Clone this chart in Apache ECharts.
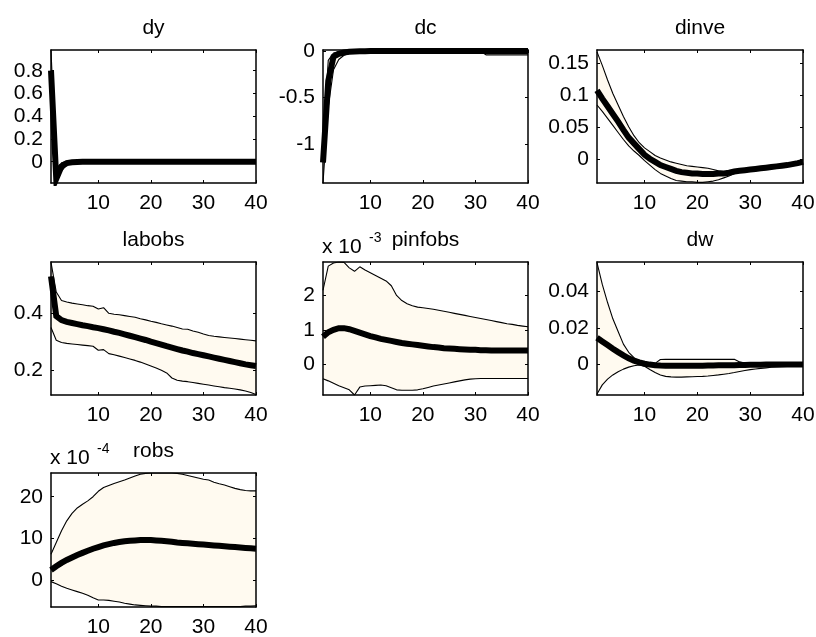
<!DOCTYPE html>
<html>
<head>
<meta charset="utf-8">
<script src="https://cdn.jsdelivr.net/npm/echarts@6/dist/echarts.min.js"></script>
<style>
html,body{margin:0;padding:0;background:#ffffff;}
#c{width:816px;height:637px;}
</style>
</head>
<body>
<div id="c"></div>
<script>
// ---------------- DATA ----------------
const periods = [1,2,3,4,5,6,7,8,9,10,11,12,13,14,15,16,17,18,19,20,21,22,23,24,25,26,27,28,29,30,31,32,33,34,35,36,37,38,39,40];
const xTickValues = [10,20,30,40];

const dyMean  = [0.80,-0.15,-0.04,-0.012,-0.005,-0.002,-0.001,0,0,0,0,0,0,0,0,0,0,0,0,0,0,0,0,0,0,0,0,0,0,0,0,0,0,0,0,0,0,0,0,0];
const dyUpper = [0.98,-0.09,-0.01,0.004,0.006,0.006,0.005,0.005,0.004,0.004,0.004,0.004,0.004,0.004,0.004,0.004,0.004,0.004,0.004,0.004,0.004,0.004,0.004,0.004,0.004,0.004,0.004,0.004,0.004,0.004,0.004,0.004,0.004,0.004,0.004,0.004,0.004,0.004,0.004,0.004];
const dyLower = [0.62,-0.187,-0.08,-0.03,-0.016,-0.010,-0.008,-0.006,-0.005,-0.004,-0.004,-0.004,-0.004,-0.004,-0.004,-0.004,-0.004,-0.004,-0.004,-0.004,-0.004,-0.004,-0.004,-0.004,-0.004,-0.004,-0.004,-0.004,-0.004,-0.004,-0.004,-0.004,-0.004,-0.004,-0.004,-0.004,-0.004,-0.004,-0.004,-0.004];
const dyTicks = [0,0.2,0.4,0.6,0.8];

const dcMean  = [-1.20,-0.32,-0.06,-0.03,-0.015,-0.008,-0.004,-0.002,-0.001,0,0,0,0,0,0,0,0,0,0,0,0,0,0,0,0,0,0,0,0,0,0,0,0,0,0,0,0,0,0,0];
const dcUpper = [-0.98,-0.10,-0.02,-0.005,0.0,0.004,0.006,0.008,0.010,0.012,0.012,0.012,0.012,0.012,0.012,0.012,0.012,0.012,0.012,0.012,0.012,0.012,0.012,0.012,0.012,0.012,0.012,0.012,0.012,0.012,0.012,0.012,0.012,0.012,0.012,0.012,0.012,0.012,0.012,0.012];
const dcLower = [-1.42,-0.60,-0.20,-0.09,-0.045,-0.025,-0.015,-0.010,-0.008,-0.006,-0.005,-0.005,-0.005,-0.005,-0.005,-0.005,-0.005,-0.005,-0.005,-0.005,-0.005,-0.005,-0.005,-0.005,-0.005,-0.005,-0.005,-0.005,-0.005,-0.005,-0.005,-0.04,-0.04,-0.04,-0.04,-0.04,-0.04,-0.04,-0.04,-0.04];
const dcTicks = [-1,-0.5,0];

const dinveMean  = [0.108,0.095,0.083,0.071,0.059,0.046,0.034,0.025,0.016,0.007,0.001,-0.004,-0.009,-0.012,-0.015,-0.018,-0.020,-0.021,-0.022,-0.022,-0.023,-0.023,-0.023,-0.022,-0.022,-0.021,-0.019,-0.018,-0.017,-0.016,-0.015,-0.014,-0.013,-0.012,-0.011,-0.010,-0.009,-0.0075,-0.006,-0.004];
const dinveUpper = [0.168,0.147,0.124,0.103,0.085,0.067,0.051,0.037,0.026,0.018,0.012,0.006,0.002,-0.001,-0.004,-0.006,-0.008,-0.010,-0.011,-0.012,-0.013,-0.014,-0.016,-0.018,-0.019,-0.019,-0.017,-0.016,-0.015,-0.014,-0.013,-0.012,-0.011,-0.010,-0.009,-0.008,-0.007,-0.0055,-0.004,-0.002];
const dinveLower = [0.085,0.075,0.064,0.053,0.042,0.031,0.021,0.013,0.006,-0.002,-0.009,-0.016,-0.022,-0.026,-0.030,-0.033,-0.034,-0.035,-0.035,-0.036,-0.036,-0.035,-0.034,-0.032,-0.029,-0.026,-0.022,-0.020,-0.019,-0.018,-0.017,-0.016,-0.015,-0.014,-0.013,-0.012,-0.011,-0.0095,-0.008,-0.006];
const dinveTicks = [0,0.05,0.1,0.15];

const labobsMean  = [0.53,0.39,0.376,0.370,0.366,0.362,0.358,0.355,0.351,0.348,0.344,0.340,0.335,0.331,0.326,0.321,0.316,0.311,0.306,0.300,0.295,0.290,0.284,0.279,0.274,0.269,0.265,0.260,0.256,0.252,0.248,0.244,0.240,0.236,0.232,0.228,0.224,0.220,0.217,0.214];
const labobsUpper = [0.580,0.475,0.445,0.440,0.436,0.433,0.430,0.427,0.425,0.415,0.420,0.400,0.397,0.395,0.392,0.389,0.386,0.381,0.377,0.372,0.368,0.363,0.359,0.355,0.350,0.345,0.344,0.338,0.333,0.327,0.322,0.319,0.317,0.315,0.313,0.311,0.309,0.307,0.305,0.303];
const labobsLower = [0.350,0.305,0.297,0.294,0.292,0.290,0.288,0.286,0.284,0.270,0.272,0.258,0.254,0.249,0.244,0.239,0.234,0.228,0.221,0.214,0.207,0.199,0.190,0.172,0.164,0.161,0.159,0.156,0.153,0.150,0.147,0.144,0.141,0.138,0.136,0.133,0.130,0.126,0.121,0.114];
const labobsTicks = [0.2,0.4];

// pinfobs values in units of 1e-3
const pinfobsMean  = [0.80,0.93,1.00,1.05,1.05,1.02,0.97,0.92,0.87,0.82,0.78,0.74,0.71,0.68,0.65,0.62,0.60,0.58,0.56,0.54,0.52,0.50,0.49,0.47,0.46,0.45,0.44,0.43,0.42,0.42,0.41,0.41,0.40,0.40,0.40,0.40,0.40,0.40,0.40,0.40];
const pinfobsUpper = [2.15,2.85,2.94,2.97,2.96,2.80,2.70,2.83,2.74,2.66,2.58,2.50,2.42,2.28,2.00,1.85,1.76,1.70,1.66,1.64,1.62,1.60,1.57,1.54,1.51,1.48,1.45,1.42,1.39,1.36,1.33,1.30,1.27,1.24,1.21,1.18,1.16,1.13,1.11,1.09];
const pinfobsLower = [-0.42,-0.48,-0.55,-0.62,-0.68,-0.74,-0.89,-0.66,-0.63,-0.62,-0.61,-0.60,-0.62,-0.68,-0.74,-0.75,-0.75,-0.75,-0.74,-0.71,-0.67,-0.63,-0.60,-0.57,-0.54,-0.51,-0.48,-0.45,-0.43,-0.42,-0.41,-0.41,-0.41,-0.41,-0.41,-0.41,-0.41,-0.41,-0.41,-0.41];
const pinfobsTicks = [0,1,2];

const dwMean  = [0.0145,0.0125,0.0105,0.0085,0.0066,0.0048,0.0032,0.0019,0.0009,0.0002,-0.0003,-0.0006,-0.0008,-0.0009,-0.0010,-0.0010,-0.0010,-0.0010,-0.0010,-0.0009,-0.0009,-0.0008,-0.0008,-0.0007,-0.0007,-0.0006,-0.0006,-0.0005,-0.0005,-0.0004,-0.0004,-0.0004,-0.0003,-0.0003,-0.0003,-0.0003,-0.0002,-0.0002,-0.0002,-0.0002];
const dwUpper = [0.056,0.044,0.034,0.025,0.018,0.011,0.0065,0.0035,0.0015,0.0006,0.0004,0.0004,0.0025,0.0026,0.0026,0.0026,0.0026,0.0026,0.0026,0.0026,0.0026,0.0026,0.0026,0.0026,0.0026,0.0026,0.0026,0.0012,0.0006,0.0004,0.0003,0.0003,0.0002,0.0002,0.0002,0.0002,0.0001,0.0001,0.0001,0.0001];
const dwLower = [-0.0165,-0.0115,-0.0083,-0.0060,-0.0042,-0.0028,-0.0017,-0.0009,-0.0005,-0.0012,-0.0030,-0.0047,-0.0060,-0.0068,-0.0071,-0.0072,-0.0072,-0.0071,-0.0070,-0.0069,-0.0068,-0.0066,-0.0063,-0.0060,-0.0056,-0.0052,-0.0047,-0.0041,-0.0036,-0.0031,-0.0027,-0.0024,-0.0021,-0.0018,-0.0016,-0.0014,-0.0013,-0.0012,-0.0011,-0.0010];
const dwTicks = [0,0.02,0.04];

// robs values in units of 1e-4
const robsMean  = [2.4,3.3,4.1,4.8,5.4,6.0,6.5,7.0,7.5,7.9,8.3,8.6,8.9,9.1,9.3,9.4,9.5,9.6,9.6,9.6,9.5,9.4,9.3,9.2,9.0,8.9,8.8,8.7,8.6,8.5,8.4,8.3,8.2,8.1,8.0,7.9,7.8,7.7,7.6,7.5];
const robsUpper = [6.2,9.0,11.8,14.2,16.0,17.3,18.2,19.0,20.0,21.3,22.2,22.7,23.2,23.6,24.0,24.5,25.0,25.4,25.6,25.7,25.7,25.7,25.7,25.7,25.6,25.4,25.1,24.8,24.5,24.2,24.0,23.5,23.1,22.8,22.4,22.0,21.7,21.5,21.4,21.4];
const robsLower = [-0.4,-0.9,-1.5,-2.0,-2.4,-2.8,-3.2,-3.7,-4.3,-4.8,-4.8,-4.9,-5.1,-5.3,-5.6,-5.8,-6.0,-6.1,-6.2,-6.3,-6.3,-6.4,-6.4,-6.4,-6.4,-6.4,-6.4,-6.4,-6.4,-6.4,-6.4,-6.4,-6.4,-6.4,-6.4,-6.4,-6.4,-6.3,-6.3,-6.2];
const robsTicks = [0,10,20];

const panelNames = ['dy','dc','dinve','labobs','pinfobs','dw','robs'];
const panelMeans = [dyMean, dcMean, dinveMean, labobsMean, pinfobsMean, dwMean, robsMean];
const panelUppers = [dyUpper, dcUpper, dinveUpper, labobsUpper, pinfobsUpper, dwUpper, robsUpper];
const panelLowers = [dyLower, dcLower, dinveLower, labobsLower, pinfobsLower, dwLower, robsLower];
const panelTicks = [dyTicks, dcTicks, dinveTicks, labobsTicks, pinfobsTicks, dwTicks, robsTicks];
const panelYMin = [-0.187, -1.42, -0.037, 0.112, -0.89, -0.0171, -6.5];
const panelYMax = [0.982, 0.012, 0.171, 0.581, 2.97, 0.0564, 25.7];
const exponentLabels = [null, null, null, null, '-3', null, '-4'];

// ---------------- LAYOUT / STYLE ----------------
const boxes = [
  [51, 50, 205, 133], [323, 50, 205, 133], [597, 50, 206, 133],
  [51, 262, 205, 133], [323, 262, 205, 133], [597, 262, 206, 133],
  [51, 473, 205, 134]
];
const FONT = '"Liberation Sans", Arial, sans-serif';
const FILL = '#fffaf0';
const INK = '#000000';

const chart = echarts.init(document.getElementById('c'), null, {renderer: 'canvas'});
const option = {
  animation: false,
  backgroundColor: '#ffffff',
  title: [], grid: [], xAxis: [], yAxis: [], series: []
};

function axisCommon(showLabel, customTicks, pos, isX) {
  return {
    position: pos,
    z: 5,
    axisLine: {show: true, onZero: false, lineStyle: {color: INK, width: 1.5}},
    axisTick: {show: true, inside: true, length: 3, customValues: customTicks, lineStyle: {color: INK, width: 1}},
    axisLabel: {
      show: showLabel, customValues: customTicks,
      margin: isX ? 10 : 8, fontSize: 21, fontFamily: FONT, color: INK
    },
    splitLine: {show: false},
    splitArea: {show: false}
  };
}

panelNames.forEach((name, i) => {
  const [l, t, w, h] = boxes[i];
  option.grid.push({left: l, top: t, width: w, height: h, show: false, containLabel: false, outerBoundsMode: 'none'});

  option.xAxis.push(Object.assign({gridIndex: i, type: 'value', min: 1, max: 40}, axisCommon(true, xTickValues, 'bottom', true)));
  option.xAxis.push(Object.assign({gridIndex: i, type: 'value', min: 1, max: 40}, axisCommon(false, xTickValues, 'top', true)));
  option.yAxis.push(Object.assign({gridIndex: i, type: 'value', min: panelYMin[i], max: panelYMax[i]}, axisCommon(true, panelTicks[i], 'left', false)));
  option.yAxis.push(Object.assign({gridIndex: i, type: 'value', min: panelYMin[i], max: panelYMax[i]}, axisCommon(false, panelTicks[i], 'right', false)));

  const xi = 2 * i, yi = 2 * i;
  const mean = panelMeans[i], up = panelUppers[i], lo = panelLowers[i];
  const base = {type: 'line', xAxisIndex: xi, yAxisIndex: yi, symbol: 'none', showSymbol: false, silent: true, animation: false};

  // shaded HPD band as one polygon through the axis scales
  option.series.push({
    type: 'custom', name: name + ' band', xAxisIndex: xi, yAxisIndex: yi, silent: true, z: 1,
    data: periods.map((p, k) => [p, lo[k], up[k]]),
    encode: {x: 0, y: [1, 2]},
    renderItem: function (params, api) {
      if (params.dataIndex !== 0) return null;
      const pts = [];
      for (let k = 0; k < periods.length; k++) pts.push(api.coord([periods[k], up[k]]));
      for (let k = periods.length - 1; k >= 0; k--) pts.push(api.coord([periods[k], lo[k]]));
      return {type: 'polygon', shape: {points: pts}, style: {fill: FILL, stroke: null}};
    }
  });
  option.series.push(Object.assign({}, base, {
    name: name + ' lower', z: 3,
    lineStyle: {color: INK, width: 1.1},
    data: periods.map((p, k) => [p, lo[k]])
  }));
  option.series.push(Object.assign({}, base, {
    name: name + ' upper', z: 3,
    lineStyle: {color: INK, width: 1.1},
    data: periods.map((p, k) => [p, up[k]])
  }));
  option.series.push(Object.assign({}, base, {
    name: name + ' mean', z: 4,
    lineStyle: {color: INK, width: 6, cap: 'butt', join: 'miter'},
    data: periods.map((p, k) => [p, mean[k]])
  }));

  option.title.push({
    text: name, left: l + w / 2, top: t - 32, textAlign: 'center', padding: 0,
    textStyle: {fontSize: 21, fontWeight: 'normal', fontFamily: FONT, color: INK}
  });
  if (exponentLabels[i]) {
    option.title.push({
      text: 'x 10', left: l - 1, top: t - 25, padding: 0,
      textStyle: {fontSize: 21, fontWeight: 'normal', fontFamily: FONT, color: INK}
    });
    option.title.push({
      text: exponentLabels[i], left: l + 46, top: t - 31, padding: 0,
      textStyle: {fontSize: 14, fontWeight: 'normal', fontFamily: FONT, color: INK}
    });
  }
});

chart.setOption(option);
</script>
</body>
</html>
